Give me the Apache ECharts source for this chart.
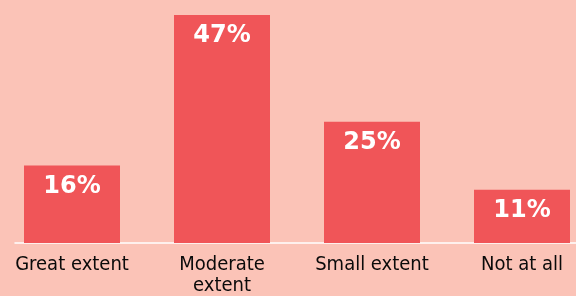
<!DOCTYPE html>
<html>
<head>
<meta charset="utf-8">
<script src="https://cdn.jsdelivr.net/npm/echarts@6/dist/echarts.min.js"></script>
<style>
  html, body { margin: 0; padding: 0; background: #fbc3b7; }
  #chart { width: 576px; height: 296px; }
</style>
</head>
<body>
<div id="chart"></div>
<script>
/* extent survey bars */

var categories = ["Great extent", "Moderate\nextent", "Small extent", "Not at all"];
var shares = [16, 47, 25, 11];

var labelFont = "'Liberation Sans Narrow', 'DejaVu Sans Condensed', 'Roboto', sans-serif";

var myChart = echarts.init(document.getElementById('chart'));

option = {
    backgroundColor: '#fbc3b7',
    animation: false,
    grid: [
        { left: -3, right: -21, top: 15, bottom: 53, outerBoundsMode: 'none', containLabel: false },
        // second grid only carries the white baseline
        { left: 15, right: 0, top: 15, bottom: 53, outerBoundsMode: 'none', containLabel: false }
    ],
    xAxis: [{
        type: 'category',
        gridIndex: 0,
        data: categories,
        axisLine: { show: false },
        axisTick: { show: false },
        axisLabel: {
            interval: 0,
            color: '#0a0a0a',
            fontFamily: labelFont,
            fontSize: 20,
            lineHeight: 21,
            margin: 11,
            verticalAlign: 'top',
            hideOverlap: false
        }
    }, {
        type: 'category',
        gridIndex: 1,
        data: [''],
        axisLine: { show: true, lineStyle: { color: '#ffffff', width: 1.5 } },
        axisTick: { show: false },
        axisLabel: { show: false }
    }],
    yAxis: [{
        type: 'value',
        gridIndex: 0,
        min: 0,
        max: 47,
        show: false
    }, {
        type: 'value',
        gridIndex: 1,
        show: false
    }],
    series: [{
        type: 'bar',
        xAxisIndex: 0,
        yAxisIndex: 0,
        data: shares,
        barWidth: 96,
        itemStyle: { color: '#f05558' },
        label: {
            show: true,
            position: 'insideTop',
            distance: 9,
            formatter: '{c}%',
            color: '#ffffff',
            fontFamily: "'DejaVu Sans', sans-serif",
            fontWeight: 'bold',
            fontSize: 24
        }
    }]
};

myChart.setOption(option);
</script>
</body>
</html>
